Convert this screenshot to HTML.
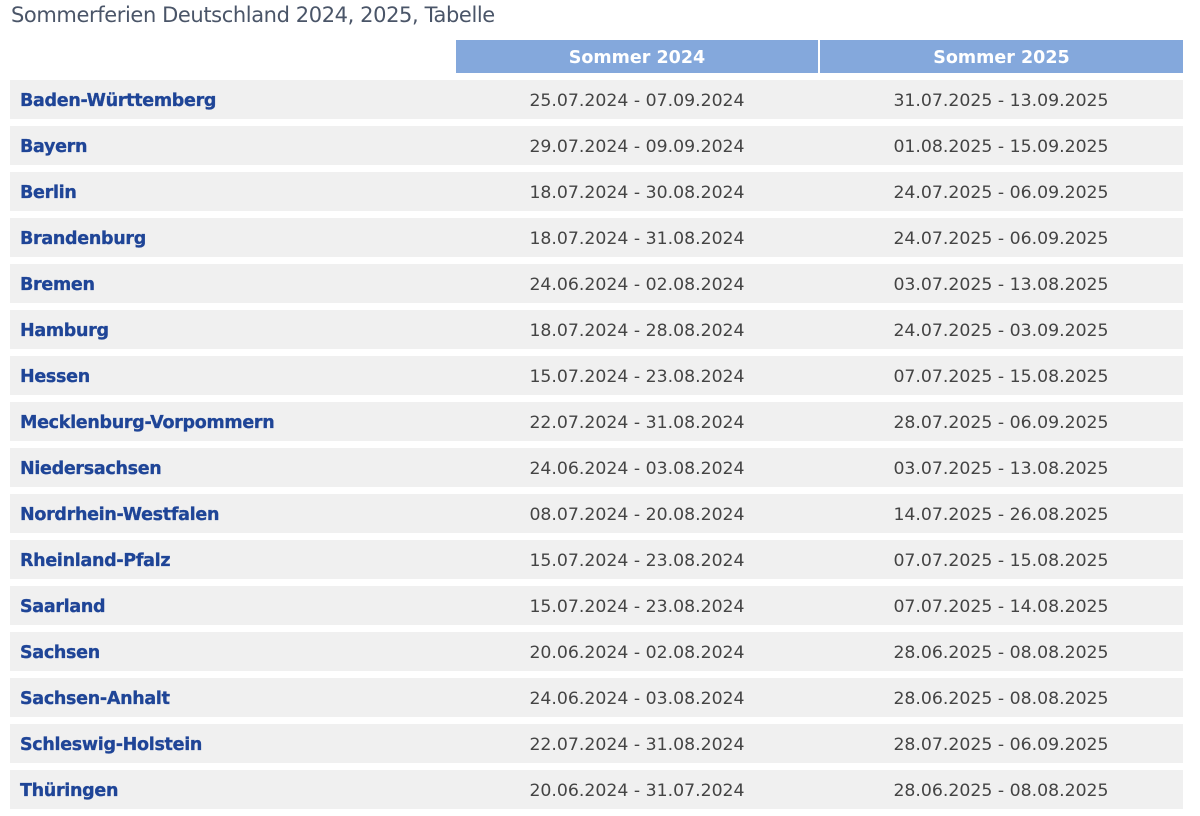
<!DOCTYPE html>
<html><head><meta charset="utf-8"><style>
body{margin:0;width:1200px;height:816px;background:#fff;font-family:"DejaVu Sans","Liberation Sans",sans-serif;position:relative;overflow:hidden}
.t{position:absolute;left:11px;top:3px;font-size:21px;color:#4a5568;font-family:"DejaVu Sans",sans-serif;letter-spacing:-0.4px}
.h{position:absolute;top:40px;height:33px;background:#84a8dc;color:#fff;font-weight:bold;font-size:17.5px;line-height:36px;text-align:center}
.r{position:absolute;left:10px;width:1173px;height:39px;background:#f0f0f0;line-height:42px}
.n{position:absolute;left:10px;font-weight:bold;color:#1f4597;font-size:17.5px;letter-spacing:-0.3px;-webkit-text-stroke:0.3px #1f4597}
.d{position:absolute;width:364px;text-align:center;color:#444;font-size:17.3px;letter-spacing:0px}
</style></head><body>
<div class="t">Sommerferien Deutschland 2024, 2025, Tabelle</div>
<div class="h" style="left:456px;width:362px">Sommer 2024</div>
<div class="h" style="left:820px;width:363px">Sommer 2025</div>
<div class="r" style="top:80px"><span class="n">Baden-Württemberg</span><span class="d" style="left:445px">25.07.2024 - 07.09.2024</span><span class="d" style="left:809px">31.07.2025 - 13.09.2025</span></div>
<div class="r" style="top:126px"><span class="n">Bayern</span><span class="d" style="left:445px">29.07.2024 - 09.09.2024</span><span class="d" style="left:809px">01.08.2025 - 15.09.2025</span></div>
<div class="r" style="top:172px"><span class="n">Berlin</span><span class="d" style="left:445px">18.07.2024 - 30.08.2024</span><span class="d" style="left:809px">24.07.2025 - 06.09.2025</span></div>
<div class="r" style="top:218px"><span class="n">Brandenburg</span><span class="d" style="left:445px">18.07.2024 - 31.08.2024</span><span class="d" style="left:809px">24.07.2025 - 06.09.2025</span></div>
<div class="r" style="top:264px"><span class="n">Bremen</span><span class="d" style="left:445px">24.06.2024 - 02.08.2024</span><span class="d" style="left:809px">03.07.2025 - 13.08.2025</span></div>
<div class="r" style="top:310px"><span class="n">Hamburg</span><span class="d" style="left:445px">18.07.2024 - 28.08.2024</span><span class="d" style="left:809px">24.07.2025 - 03.09.2025</span></div>
<div class="r" style="top:356px"><span class="n">Hessen</span><span class="d" style="left:445px">15.07.2024 - 23.08.2024</span><span class="d" style="left:809px">07.07.2025 - 15.08.2025</span></div>
<div class="r" style="top:402px"><span class="n">Mecklenburg-Vorpommern</span><span class="d" style="left:445px">22.07.2024 - 31.08.2024</span><span class="d" style="left:809px">28.07.2025 - 06.09.2025</span></div>
<div class="r" style="top:448px"><span class="n">Niedersachsen</span><span class="d" style="left:445px">24.06.2024 - 03.08.2024</span><span class="d" style="left:809px">03.07.2025 - 13.08.2025</span></div>
<div class="r" style="top:494px"><span class="n">Nordrhein-Westfalen</span><span class="d" style="left:445px">08.07.2024 - 20.08.2024</span><span class="d" style="left:809px">14.07.2025 - 26.08.2025</span></div>
<div class="r" style="top:540px"><span class="n">Rheinland-Pfalz</span><span class="d" style="left:445px">15.07.2024 - 23.08.2024</span><span class="d" style="left:809px">07.07.2025 - 15.08.2025</span></div>
<div class="r" style="top:586px"><span class="n">Saarland</span><span class="d" style="left:445px">15.07.2024 - 23.08.2024</span><span class="d" style="left:809px">07.07.2025 - 14.08.2025</span></div>
<div class="r" style="top:632px"><span class="n">Sachsen</span><span class="d" style="left:445px">20.06.2024 - 02.08.2024</span><span class="d" style="left:809px">28.06.2025 - 08.08.2025</span></div>
<div class="r" style="top:678px"><span class="n">Sachsen-Anhalt</span><span class="d" style="left:445px">24.06.2024 - 03.08.2024</span><span class="d" style="left:809px">28.06.2025 - 08.08.2025</span></div>
<div class="r" style="top:724px"><span class="n">Schleswig-Holstein</span><span class="d" style="left:445px">22.07.2024 - 31.08.2024</span><span class="d" style="left:809px">28.07.2025 - 06.09.2025</span></div>
<div class="r" style="top:770px"><span class="n">Thüringen</span><span class="d" style="left:445px">20.06.2024 - 31.07.2024</span><span class="d" style="left:809px">28.06.2025 - 08.08.2025</span></div>
</body></html>
